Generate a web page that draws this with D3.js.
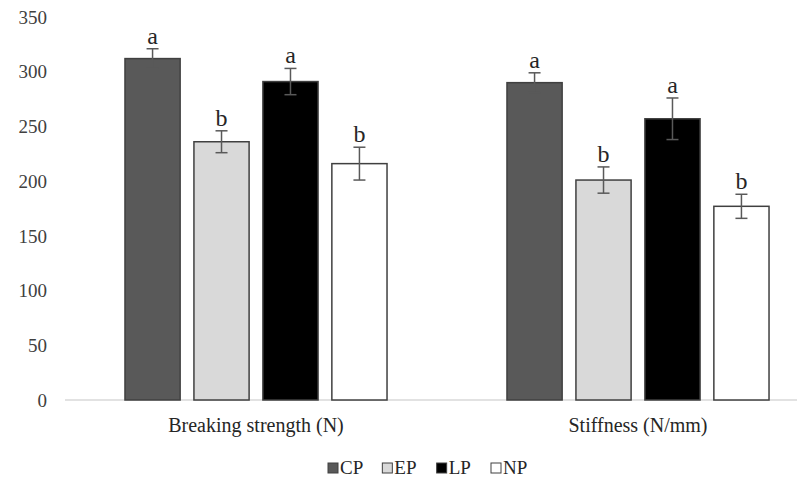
<!DOCTYPE html>
<html>
<head>
<meta charset="utf-8">
<script src="https://cdn.jsdelivr.net/npm/d3@7"></script>
<style>
  html, body { margin: 0; padding: 0; background: #fff; }
  svg { display: block; font-family: "Liberation Serif", "Times New Roman", serif; }
</style>
</head>
<body>
<svg id="chart" width="797" height="480"></svg>
<script>
// Measured traits for each treatment group
const categories = ["Breaking strength (N)", "Stiffness (N/mm)"];
const seriesNames = ["CP", "EP", "LP", "NP"];
const breakingMeans = [312, 236, 291, 216];
const breakingErrors = [9, 10, 12, 15];
const stiffnessMeans = [290, 201, 257, 177];
const stiffnessErrors = [9, 12, 19, 11];
const breakingLetters = ["a", "b", "a", "b"];
const stiffnessLetters = ["a", "b", "a", "b"];
const yTicks = [0, 50, 100, 150, 200, 250, 300, 350];

const fills = { CP: "#595959", EP: "#d9d9d9", LP: "#000000", NP: "#ffffff" };

const groups = [
  { name: categories[0], means: breakingMeans, errs: breakingErrors, letters: breakingLetters },
  { name: categories[1], means: stiffnessMeans, errs: stiffnessErrors, letters: stiffnessLetters }
];

const svg = d3.select("#chart");

const y = d3.scaleLinear().domain([0, 350]).range([400, 17]);

const x0 = d3.scaleBand()
  .domain(categories)
  .range([65, 829])
  .paddingInner(0.314)
  .paddingOuter(0.157);

const x1 = d3.scaleBand()
  .domain(seriesNames)
  .range([0, x0.bandwidth()])
  .paddingInner(0.2)
  .paddingOuter(0);

// y-axis tick labels only (no line, no ticks)
svg.append("g")
  .selectAll("text")
  .data(yTicks)
  .join("text")
  .attr("x", 47)
  .attr("y", d => y(d))
  .attr("dy", "0.35em")
  .attr("text-anchor", "end")
  .attr("font-size", 19)
  .attr("fill", "#404040")
  .text(d => d);

// baseline
svg.append("line")
  .attr("x1", 65).attr("x2", 829)
  .attr("y1", y(0)).attr("y2", y(0))
  .attr("stroke", "#d9d9d9")
  .attr("stroke-width", 1.5);

const g = svg.selectAll("g.group")
  .data(groups)
  .join("g")
  .attr("class", "group")
  .attr("transform", d => `translate(${x0(d.name)},0)`);

const rows = d => seriesNames.map((s, i) => ({
  series: s, value: d.means[i], err: d.errs[i], letter: d.letters[i]
}));

g.selectAll("rect")
  .data(rows)
  .join("rect")
  .attr("x", d => x1(d.series))
  .attr("y", d => y(d.value))
  .attr("width", x1.bandwidth())
  .attr("height", d => y(0) - y(d.value))
  .attr("fill", d => fills[d.series])
  .attr("stroke", "#404040")
  .attr("stroke-width", 1.5);

// error bars
const eb = g.selectAll("g.err")
  .data(rows)
  .join("g")
  .attr("class", "err")
  .attr("transform", d => `translate(${x1(d.series) + x1.bandwidth() / 2},0)`)
  .attr("stroke", "#595959")
  .attr("stroke-width", 1.5);

eb.append("line")
  .attr("y1", d => y(d.value + d.err))
  .attr("y2", d => y(d.value - d.err));
eb.append("line")
  .attr("x1", -6).attr("x2", 6)
  .attr("y1", d => y(d.value + d.err))
  .attr("y2", d => y(d.value + d.err));
eb.append("line")
  .attr("x1", -6).attr("x2", 6)
  .attr("y1", d => y(d.value - d.err))
  .attr("y2", d => y(d.value - d.err));

// significance letters
g.selectAll("text.letter")
  .data(rows)
  .join("text")
  .attr("class", "letter")
  .attr("x", d => x1(d.series) + x1.bandwidth() / 2)
  .attr("y", d => y(d.value + d.err) - 5)
  .attr("text-anchor", "middle")
  .attr("font-size", 24)
  .attr("fill", "#262626")
  .text(d => d.letter);

// category labels
svg.append("g")
  .selectAll("text")
  .data(categories)
  .join("text")
  .attr("x", d => x0(d) + x0.bandwidth() / 2)
  .attr("y", 432)
  .attr("text-anchor", "middle")
  .attr("font-size", 20)
  .attr("fill", "#262626")
  .text(d => d);

// legend
const legendX = d3.scalePoint().domain(seriesNames).range([328, 491]);
const lg = svg.append("g")
  .selectAll("g")
  .data(seriesNames)
  .join("g")
  .attr("transform", d => `translate(${legendX(d)},463)`);
lg.append("rect")
  .attr("width", 10).attr("height", 10)
  .attr("fill", d => fills[d])
  .attr("stroke", "#404040")
  .attr("stroke-width", 1);
lg.append("text")
  .attr("x", 12)
  .attr("y", 11)
  .attr("font-size", 19)
  .attr("fill", "#262626")
  .text(d => d);
</script>
</body>
</html>
